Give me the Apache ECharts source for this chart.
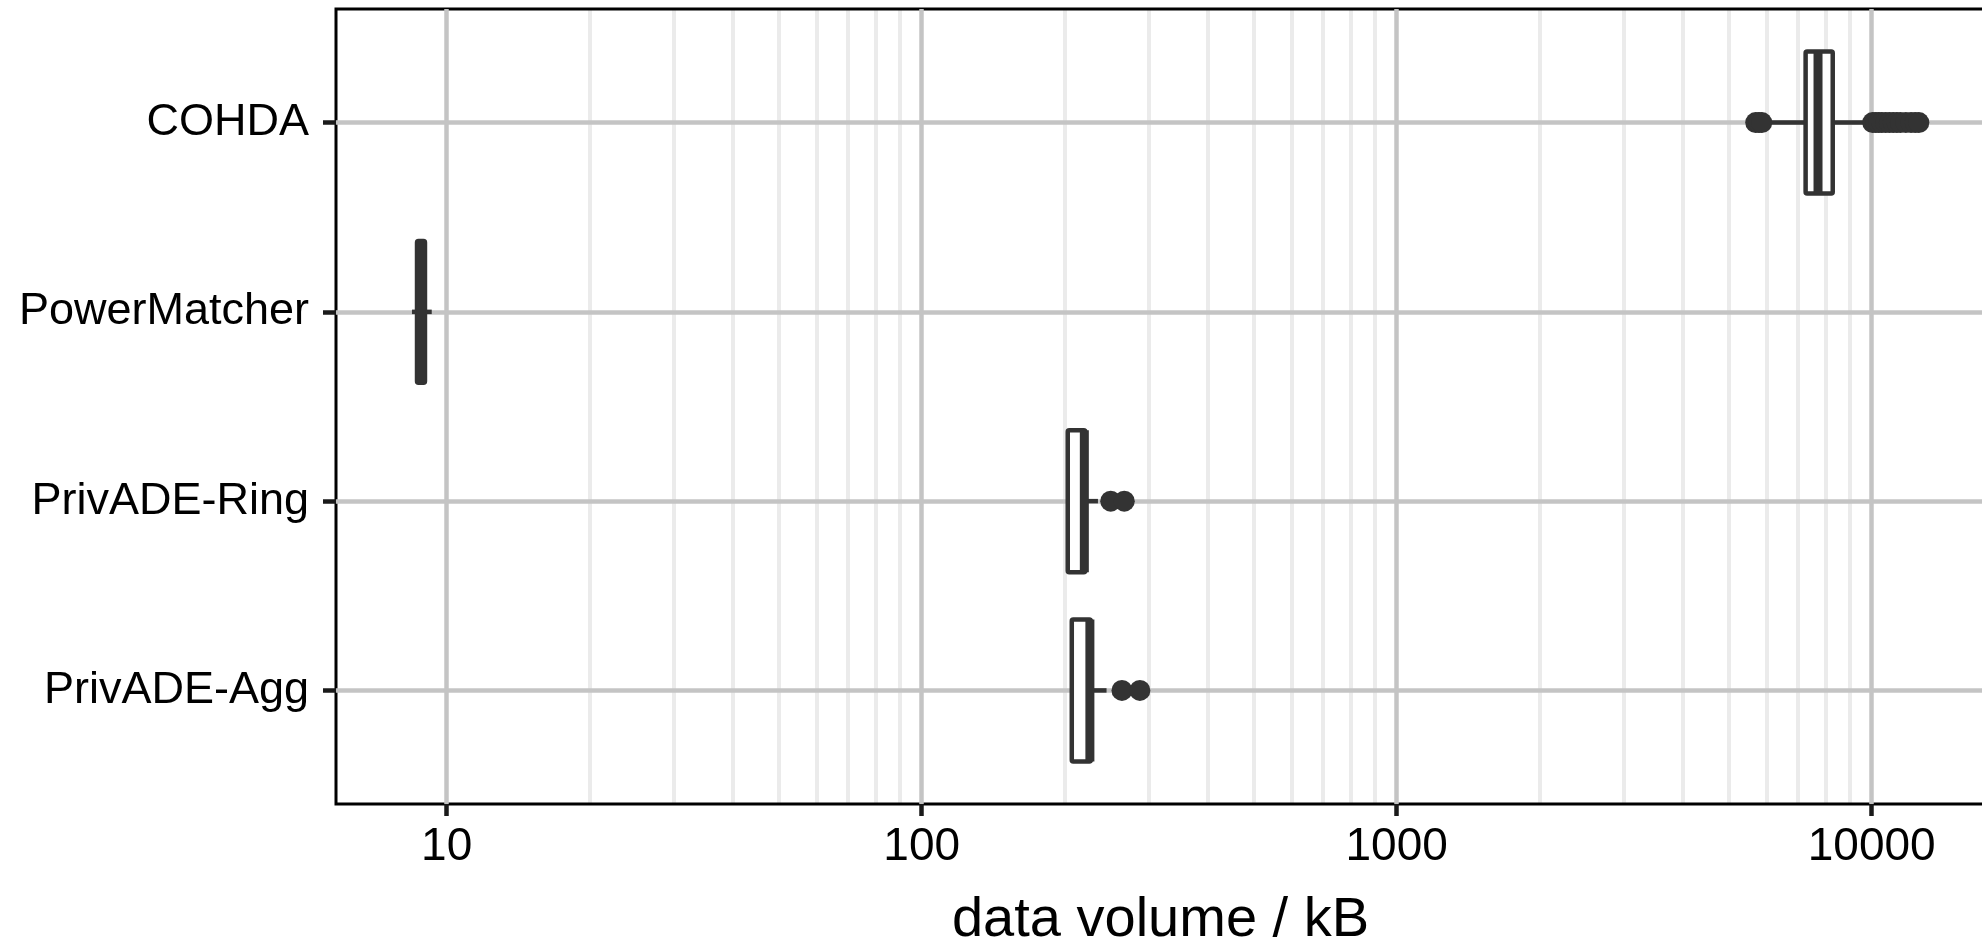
<!DOCTYPE html>
<html>
<head>
<meta charset="utf-8">
<script src="https://cdn.jsdelivr.net/npm/echarts@6/dist/echarts.min.js"></script>
<style>
    html, body { margin: 0; padding: 0; background: #fff; }
    #chart-container { width: 1982px; height: 944px; }
</style>
</head>
<body>
<div id="chart-container"></div>
<script>
// 1. Daten (kB), Kategorien von oben nach unten
const categories = ['COHDA', 'PowerMatcher', 'PrivADE-Ring', 'PrivADE-Agg'];

// Boxplot-Kennwerte: [unterer Whisker, Q1, Median, Q3, oberer Whisker]
const statsCOHDA = [5950, 7260, 7710, 8280, 9780];
const statsPowerMatcher = [8.45, 8.66, 8.83, 9.0, 9.3];
const statsRing = [203, 203, 220, 221, 235];
const statsAgg = [207, 207, 226, 227, 245];

// Ausreißer
const outliersCOHDA = [5700, 5790, 5870, 10050, 10200, 10350, 10500, 10700, 10900, 11100, 11300, 11500, 11800, 12100, 12350, 12570];
const outliersPowerMatcher = [];
const outliersRing = [250, 267];
const outliersAgg = [264, 288];

// Achsenbeschriftung
const majorTicks = [10, 100, 1000, 10000];
const minorTicks = [20, 30, 40, 50, 60, 70, 80, 90, 200, 300, 400, 500, 600, 700, 800, 900,
                    2000, 3000, 4000, 5000, 6000, 7000, 8000, 9000];

// 2. Daten für die Serien zusammenbauen
const allStats = [statsCOHDA, statsPowerMatcher, statsRing, statsAgg];
const allOutliers = [outliersCOHDA, outliersPowerMatcher, outliersRing, outliersAgg];

const boxData = allStats.map((s, i) => [i].concat(s));
const outlierData = [];
allOutliers.forEach((list, i) => list.forEach(v => outlierData.push([v, i])));

const INK = '#333333';
const FONT = 'Liberation Sans, Arial, Helvetica, sans-serif';
// Achsenbereich: rechter Rand liegt knapp außerhalb des Bildes
const xMin = 5.847, xMax = 17322;

// ggplot-artiger Boxplot ohne Whisker-Enden
function renderBox(params, api) {
    const idx = api.value(0);
    const lo = api.coord([api.value(1), idx]);
    const q1 = api.coord([api.value(2), idx]);
    const med = api.coord([api.value(3), idx]);
    const q3 = api.coord([api.value(4), idx]);
    const hi = api.coord([api.value(5), idx]);
    const yA = api.coord([api.value(3), idx - 0.375])[1];
    const yB = api.coord([api.value(3), idx + 0.375])[1];
    const top = Math.min(yA, yB), bottom = Math.max(yA, yB);
    const y = med[1];
    return {
        type: 'group',
        children: [
            { type: 'line', shape: { x1: lo[0], y1: y, x2: q1[0], y2: y }, style: { stroke: INK, lineWidth: 4.5 } },
            { type: 'line', shape: { x1: q3[0], y1: y, x2: hi[0], y2: y }, style: { stroke: INK, lineWidth: 4.5 } },
            { type: 'rect', shape: { x: q1[0], y: top, width: q3[0] - q1[0], height: bottom - top, r: 1.5 },
              style: { fill: '#fff', stroke: INK, lineWidth: 4.5, lineJoin: 'round' } },
            { type: 'line', shape: { x1: med[0], y1: top, x2: med[0], y2: bottom }, style: { stroke: INK, lineWidth: 9 } }
        ]
    };
}

const myChart = echarts.init(document.getElementById('chart-container'));

const option = {
    animation: false,
    backgroundColor: '#fff',
    grid: {
        left: 336, top: 9, right: -3, bottom: 140,
        outerBoundsMode: 'none',
        containLabel: false,
        show: true, borderColor: '#000', borderWidth: 3, backgroundColor: 'transparent'
    },
    xAxis: [{
        type: 'log', logBase: 10, min: xMin, max: xMax,
        axisLine: { show: false, onZero: false },
        axisTick: { show: true, customValues: majorTicks, length: 12, lineStyle: { color: '#1a1a1a', width: 4.5 } },
        axisLabel: {
            customValues: majorTicks, fontSize: 46, color: '#000', margin: 20, fontFamily: FONT,
            formatter: v => String(Math.round(v))
        },
        splitLine: { show: true, lineStyle: { color: '#c4c4c4', width: 4.5 } },
        name: 'data volume / kB',
        nameLocation: 'middle',
        nameGap: 89,
        nameTextStyle: { fontSize: 56, color: '#000', fontFamily: FONT }
    }, {
        // Nebengitterlinien
        type: 'log', logBase: 10, min: xMin, max: xMax, position: 'top', z: -1,
        axisLine: { show: false, onZero: false },
        axisLabel: { show: false },
        splitLine: { show: false },
        axisTick: { show: true, inside: true, length: 795, customValues: minorTicks, lineStyle: { color: '#ebebeb', width: 4 } }
    }],
    yAxis: {
        type: 'value', min: -0.6, max: 3.6, inverse: true,
        axisLine: { show: false, onZero: false },
        axisTick: { show: true, customValues: [0, 1, 2, 3], length: 13, lineStyle: { color: '#1a1a1a', width: 4.5 } },
        axisLabel: {
            customValues: [0, 1, 2, 3], fontSize: 45, color: '#000', margin: 27, fontFamily: FONT,
            formatter: v => categories[Math.round(v)]
        },
        splitLine: { show: true, lineStyle: { color: '#c4c4c4', width: 4.5 } }
    },
    series: [{
        type: 'custom',
        renderItem: renderBox,
        data: boxData,
        encode: { x: [1, 2, 3, 4, 5], y: 0 },
        z: 2
    }, {
        type: 'scatter',
        data: outlierData,
        symbolSize: 21,
        itemStyle: { color: INK, opacity: 1 },
        z: 3
    }]
};

myChart.setOption(option);
</script>
</body>
</html>
